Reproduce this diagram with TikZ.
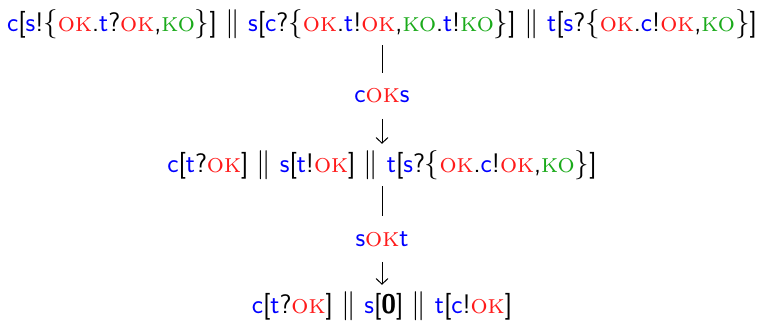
\documentclass[tikz,border=0pt]{standalone}
\usepackage{amsmath,amssymb}
\usepackage{xcolor}
\usetikzlibrary{positioning,arrows.meta}
\definecolor{chanc}{HTML}{0000FF}
\definecolor{okc}{HTML}{FF1A1A}
\definecolor{koc}{HTML}{1AAA1A}
\newcommand{\prt}[1]{\textcolor{chanc}{\textsf{#1}}}
\newcommand{\ok}{\textcolor{okc}{\textrm{\scshape ok}}}
\newcommand{\ko}{\textcolor{koc}{\textrm{\scshape ko}}}
\newcommand{\pll}{\ $\parallel$\ }
\newcommand{\lb}{$\{$}
\newcommand{\rb}{$\}$}

\begin{document}
\begin{tikzpicture}[x=0.025cm, y=-0.025cm,
                    every node/.style={font=\fontsize{19.1}{23}\selectfont\sffamily, inner sep=0pt},
                    lbl/.style={minimum height=24pt},
                    bar/.style={line width=0.7pt, shorten <=4.5pt, shorten >=4pt},
                    stepto/.style={line width=0.7pt, -{Straight Barb[length=4pt,width=8.5pt]},
                                   shorten <=4pt, shorten >=4.5pt}]
  \useasboundingbox (0,0) rectangle (760,325);
  % configurations
  \node (l1) at (382,24)
    {\prt{c}[\prt{s}!\lb\ok.\prt{t}?\ok,\ko\rb]\pll\prt{s}[\prt{c}?\lb\ok.\prt{t}!\ok,\ko.\prt{t}!\ko\rb]\pll\prt{t}[\prt{s}?\lb\ok.\prt{c}!\ok,\ko\rb]};
  \node (l2) at (382,165)
    {\prt{c}[\prt{t}?\ok]\pll\prt{s}[\prt{t}!\ok]\pll\prt{t}[\prt{s}?\lb\ok.\prt{c}!\ok,\ko\rb]};
  \node (l3) at (382,306)
    {\prt{c}[\prt{t}?\ok]\pll\prt{s}[\textbf{0}]\pll\prt{t}[\prt{c}!\ok]};
  % reduction labels
  \node[lbl] (r1) at (382,96) {\prt{c}\ok\prt{s}};
  \node[lbl] (r2) at (382,239) {\prt{s}\ok\prt{t}};
  % steps
  \draw[bar] (l1) -- (r1);
  \draw[stepto] (r1) -- (l2);
  \draw[bar] (l2) -- (r2);
  \draw[stepto] (r2) -- (l3);
\end{tikzpicture}
\end{document}
